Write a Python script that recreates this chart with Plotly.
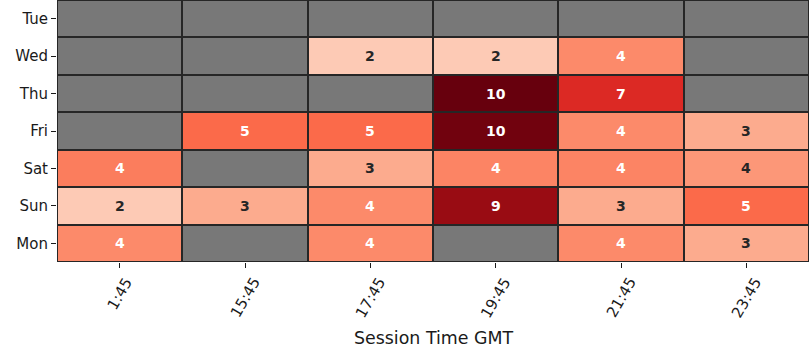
import plotly.graph_objects as go

days = ["Tue", "Wed", "Thu", "Fri", "Sat", "Sun", "Mon"]
times = ["1:45", "15:45", "17:45", "19:45", "21:45", "23:45"]
N = None
values = [
    [N, N, N, N, N, N],
    [N, N, 2.0, 2.0, 4.0, N],
    [N, N, N, 10.0, 6.9, N],
    [N, 5.0, 5.0, 9.8, 4.0, 3.0],
    [4.4, N, 3.0, 4.2, 4.2, 3.6],
    [2.0, 3.0, 4.0, 9.0, 3.0, 5.0],
    [4.0, N, 4.0, N, 4.0, 3.0],
]
x_title = "Session Time GMT"

reds = [(255, 245, 240), (254, 224, 210), (252, 187, 161), (252, 146, 114),
        (251, 106, 74), (239, 59, 44), (203, 24, 29), (165, 15, 21), (103, 0, 13)]
zmin, zmax = 0, 10
colorscale = [[i / (len(reds) - 1), "rgb(%d,%d,%d)" % c] for i, c in enumerate(reds)]


def cmap(v):
    t = min(max((v - zmin) / (zmax - zmin), 0), 1) * (len(reds) - 1)
    i = min(int(t), len(reds) - 2)
    f = t - i
    return [reds[i][k] + (reds[i + 1][k] - reds[i][k]) * f for k in range(3)]


def lum(rgb):
    out = []
    for c in rgb:
        c = c / 255
        out.append(c / 12.92 if c <= 0.03928 else ((c + 0.055) / 1.055) ** 2.4)
    return 0.2126 * out[0] + 0.7152 * out[1] + 0.0722 * out[2]


FONT = "DejaVu Sans"
BORDER = "#262626"
GRAY = "rgb(120,120,120)"
TXT = "#1a1a1a"

fig = go.Figure()
fig.add_trace(go.Heatmap(
    z=[[0 for _ in times] for _ in days], x=times, y=days,
    colorscale=[[0, GRAY], [1, GRAY]], showscale=False,
    xgap=2, ygap=2, hoverinfo="skip"))
fig.add_trace(go.Heatmap(
    z=values, x=times, y=days, colorscale=colorscale, zmin=zmin, zmax=zmax,
    showscale=False, xgap=2, ygap=2))

annotations = []
for r, d in enumerate(days):
    for c, t in enumerate(times):
        v = values[r][c]
        if v is None:
            continue
        col = "white" if lum(cmap(v)) < 0.408 else BORDER
        annotations.append(dict(x=t, y=d, xref="x", yref="y", text="%d" % round(v),
                                showarrow=False,
                                font=dict(family=FONT, size=14, color=col, weight="bold")))
for t in times:
    annotations.append(dict(x=t, y=0, xref="x", yref="paper", text=t, showarrow=False,
                            textangle=-60, xanchor="center", yanchor="top", yshift=-10,
                            font=dict(family=FONT, size=15, color=TXT)))
annotations.append(dict(x=0.5, y=0, xref="paper", yref="paper", text=x_title,
                        showarrow=False, xanchor="center", yanchor="middle", yshift=-76,
                        font=dict(family=FONT, size=17.4, color=TXT)))

fig.update_layout(
    width=810, height=360,
    margin=dict(l=57, r=1, t=0, b=98),
    paper_bgcolor="white", plot_bgcolor=BORDER,
    annotations=annotations,
    font=dict(family=FONT, size=15, color=TXT),
)
fig.update_xaxes(showgrid=False, zeroline=False, ticks="outside", ticklen=5,
                 tickcolor=TXT, showticklabels=False, automargin=False)
fig.update_yaxes(showgrid=False, zeroline=False, ticks="outside", ticklen=5,
                 tickcolor=TXT, autorange="reversed", automargin=False,
                 tickfont=dict(family=FONT, size=15, color=TXT))

fig.write_html("out.html", config={"displayModeBar": False},
               post_script="document.body.style.margin='0';document.body.style.overflow='hidden';")
